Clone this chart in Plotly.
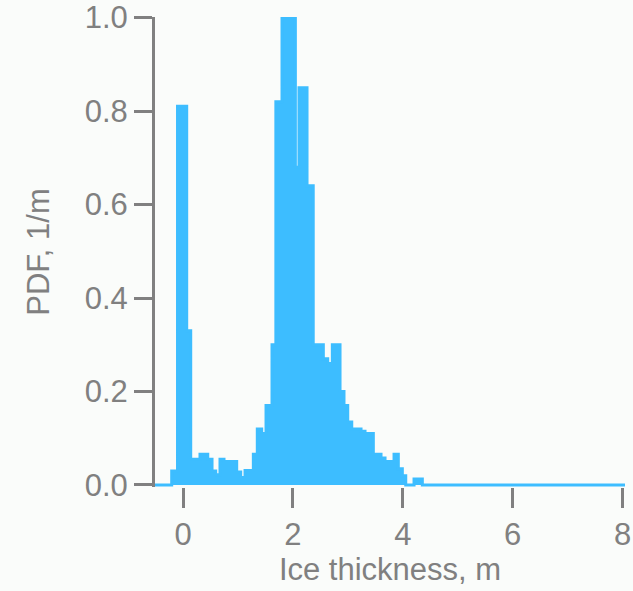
import plotly.graph_objects as go

# Ice thickness bin edges (m) and PDF values (1/m)
bin_edges = [-0.51, -0.206, -0.10, 0.067, 0.140, 0.309, 0.450, 0.528, 0.595, 0.673,
             0.746, 0.977, 1.050, 1.129, 1.280, 1.352, 1.432, 1.511, 1.62, 1.69,
             1.802, 2.045, 2.111, 2.257, 2.37, 2.554, 2.634, 2.718, 2.858, 2.930,
             2.998, 3.071, 3.240, 3.313, 3.464, 3.604, 3.677, 3.755, 3.841, 3.919,
             3.992, 4.054, 4.205, 4.356, 8.045]
pdf_values = [0.0, 0.03, 0.81, 0.33, 0.055, 0.066, 0.055, 0.03, 0.022, 0.055,
              0.05, 0.028, 0.016, 0.031, 0.066, 0.12, 0.11, 0.17, 0.30, 0.82,
              1.0, 0.68, 0.85, 0.64, 0.30, 0.27, 0.26, 0.30, 0.20, 0.17,
              0.135, 0.12, 0.115, 0.11, 0.066, 0.058, 0.05, 0.05, 0.066, 0.035,
              0.02, 0.0, 0.013, 0.0]

x_ticks = [0, 2, 4, 6, 8]
y_ticks = [0.0, 0.2, 0.4, 0.6, 0.8, 1.0]

step_x = list(bin_edges)
step_y = list(pdf_values) + [pdf_values[-1]]

GREY = "#808080"
BLUE = "#3DBDFF"
BG = "#FAFCFA"
FONT = "Liberation Sans, Arial, sans-serif"

fig = go.Figure()
fig.add_trace(go.Scatter(
    x=step_x, y=step_y, mode="lines", line_shape="hv",
    line=dict(color=BLUE, width=3), fill="tozeroy", fillcolor=BLUE,
    hoverinfo="skip", showlegend=False,
))

fig.update_layout(
    width=633, height=591,
    margin=dict(l=155, r=8, t=17, b=104),
    paper_bgcolor=BG, plot_bgcolor=BG,
    font=dict(family=FONT, size=31, color=GREY),
    xaxis=dict(
        range=[-0.51, 8.045], tickvals=x_ticks, ticktext=[str(v) for v in x_ticks],
        showgrid=False, zeroline=False, showline=False, automargin=False,
        ticks="outside", ticklen=20, tickwidth=3, tickcolor=GREY,
        tickfont=dict(size=31, color=GREY),
        title=dict(text="Ice thickness, m", font=dict(size=31, color=GREY), standoff=4),
    ),
    yaxis=dict(
        range=[-0.0043, 1.0012], tickvals=y_ticks, tickformat=".1f",
        showgrid=False, zeroline=False, showline=True, linewidth=3, linecolor=GREY,
        automargin=False,
        ticks="outside", ticklen=18, tickwidth=3, tickcolor=GREY,
        tickfont=dict(size=31, color=GREY),
        title=dict(text="PDF, 1/m", font=dict(size=31, color=GREY), standoff=26),
    ),
)

fig.write_html("out.html")
